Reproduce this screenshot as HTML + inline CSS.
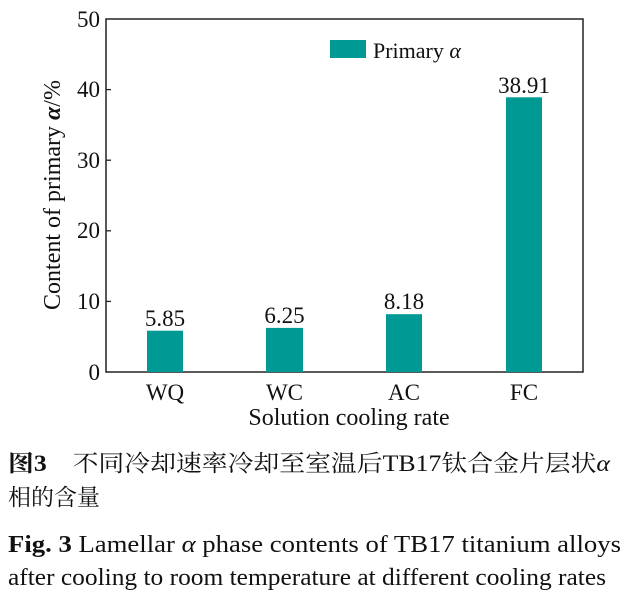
<!DOCTYPE html>
<html><head><meta charset="utf-8"><style>
html,body{margin:0;padding:0;background:#fff;}
svg{display:block;}
text{font-family:"Liberation Serif","Noto Serif CJK SC",serif;fill:#111;}
</style></head><body>
<svg width="631" height="603" viewBox="0 0 631 603" xmlns="http://www.w3.org/2000/svg">
<rect x="106" y="19" width="477" height="353" fill="none" stroke="#222" stroke-width="1.5"/>
<g stroke="#222" stroke-width="1.3">
<line x1="106" y1="301.4" x2="111" y2="301.4"/>
<line x1="106" y1="230.8" x2="111" y2="230.8"/>
<line x1="106" y1="160.2" x2="111" y2="160.2"/>
<line x1="106" y1="89.6" x2="111" y2="89.6"/>
</g>
<g font-size="23" text-anchor="end">
<text x="100" y="380">0</text>
<text x="100" y="309">10</text>
<text x="100" y="238">20</text>
<text x="100" y="168">30</text>
<text x="100" y="97">40</text>
<text x="100" y="27">50</text>
</g>
<g fill="#009994">
<rect x="147" y="330.7" width="36" height="41.3"/>
<rect x="266" y="327.9" width="37" height="44.1"/>
<rect x="386" y="314.2" width="36" height="57.8"/>
<rect x="506" y="97.3" width="36" height="274.7"/>
<rect x="330" y="40" width="36" height="18"/>
</g>
<g font-size="23" text-anchor="middle">
<text x="165" y="326">5.85</text>
<text x="284.5" y="323">6.25</text>
<text x="404" y="309">8.18</text>
<text x="524" y="93">38.91</text>
<text x="165" y="400">WQ</text>
<text x="284.5" y="400">WC</text>
<text x="404" y="400">AC</text>
<text x="524" y="400">FC</text>
<text x="349" y="425" font-size="24">Solution cooling rate</text>
</g>
<text x="373" y="58" font-size="22">Primary <tspan font-style="italic">α</tspan></text>
<text transform="translate(60,195) rotate(-90)" font-size="24" text-anchor="middle">Content of primary <tspan font-style="italic" font-weight="bold">α</tspan>/%</text>
<text x="8" y="471" font-size="23" textLength="602" lengthAdjust="spacingAndGlyphs"><tspan font-weight="bold">图3</tspan>　不同冷却速率冷却至室温后TB17钛合金片层状<tspan font-style="italic">α</tspan></text>
<text x="8" y="505" font-size="23">相的含量</text>
<text x="8" y="552" font-size="24" textLength="613" lengthAdjust="spacingAndGlyphs"><tspan font-weight="bold">Fig. 3</tspan>    Lamellar <tspan font-style="italic">α</tspan> phase contents of TB17 titanium alloys</text>
<text x="8" y="585" font-size="24" textLength="598" lengthAdjust="spacingAndGlyphs">after cooling to room temperature at different cooling rates</text>
</svg>
</body></html>
